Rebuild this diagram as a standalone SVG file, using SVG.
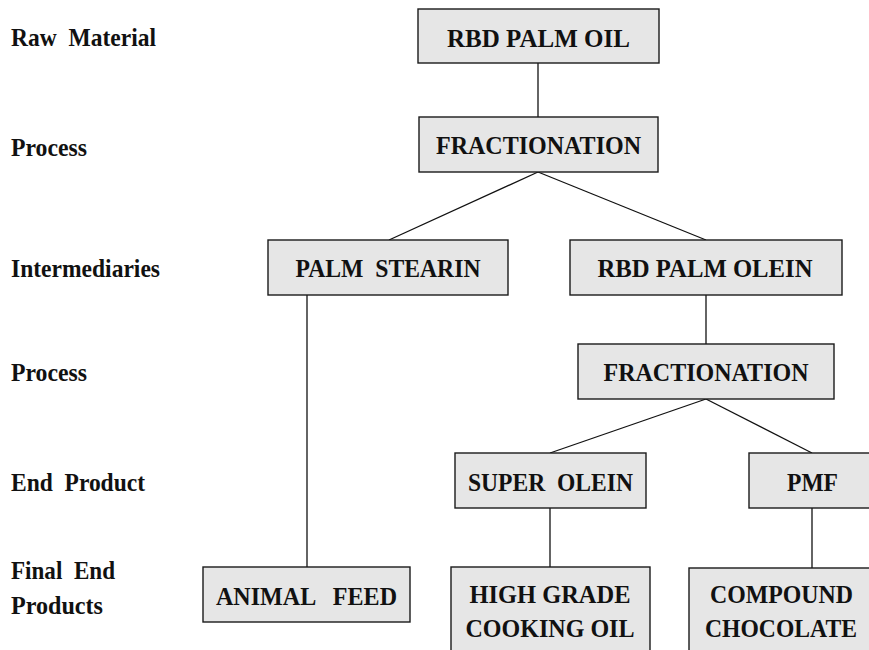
<svg xmlns="http://www.w3.org/2000/svg" width="869" height="650" viewBox="0 0 869 650">
<style>
.box{fill:#e6e6e6;stroke:#1a1a1a;stroke-width:1.4}
.conn{stroke:#111;stroke-width:1.3;fill:none}
.t{font-family:"Liberation Serif","Times New Roman",serif;font-weight:bold;font-size:26px;fill:#111;text-anchor:middle;white-space:pre}
.lab{font-family:"Liberation Serif","Times New Roman",serif;font-weight:bold;font-size:26px;fill:#111;white-space:pre}
</style>
<rect width="869" height="650" fill="#fff"/>
<g id="labels">
<text class="lab" x="11" y="46" textLength="145" lengthAdjust="spacingAndGlyphs">Raw  Material</text>
<text class="lab" x="11" y="156" textLength="76" lengthAdjust="spacingAndGlyphs">Process</text>
<text class="lab" x="11" y="277" textLength="149" lengthAdjust="spacingAndGlyphs">Intermediaries</text>
<text class="lab" x="11" y="381" textLength="76" lengthAdjust="spacingAndGlyphs">Process</text>
<text class="lab" x="11" y="491" textLength="134" lengthAdjust="spacingAndGlyphs">End  Product</text>
<text class="lab" x="11" y="579" textLength="104" lengthAdjust="spacingAndGlyphs">Final  End</text>
<text class="lab" x="11" y="614" textLength="92" lengthAdjust="spacingAndGlyphs">Products</text>
</g>
<g id="connectors">
<line class="conn" x1="538" y1="63" x2="538" y2="117"/>
<line class="conn" x1="538" y1="172" x2="389" y2="240"/>
<line class="conn" x1="538" y1="172" x2="706" y2="240"/>
<line class="conn" x1="307" y1="295" x2="307" y2="567"/>
<line class="conn" x1="706" y1="295" x2="706" y2="344"/>
<line class="conn" x1="706" y1="399" x2="550" y2="453"/>
<line class="conn" x1="706" y1="399" x2="812" y2="453"/>
<line class="conn" x1="550" y1="508" x2="550" y2="567"/>
<line class="conn" x1="812" y1="508" x2="812" y2="568"/>
</g>
<g id="rbd-palm-oil">
<rect class="box" x="418" y="9" width="241" height="54"/>
<text class="t" x="538.5" y="47" textLength="183" lengthAdjust="spacingAndGlyphs">RBD PALM OIL</text>
</g>
<g id="fractionation-1">
<rect class="box" x="419" y="117" width="239" height="55"/>
<text class="t" x="538.5" y="154" textLength="205" lengthAdjust="spacingAndGlyphs">FRACTIONATION</text>
</g>
<g id="palm-stearin">
<rect class="box" x="268" y="240" width="240" height="55"/>
<text class="t" x="388" y="277" textLength="185" lengthAdjust="spacingAndGlyphs">PALM  STEARIN</text>
</g>
<g id="rbd-palm-olein">
<rect class="box" x="570" y="240" width="272" height="55"/>
<text class="t" x="705" y="277" textLength="215" lengthAdjust="spacingAndGlyphs">RBD PALM OLEIN</text>
</g>
<g id="fractionation-2">
<rect class="box" x="578" y="344" width="256" height="55"/>
<text class="t" x="706" y="381" textLength="205" lengthAdjust="spacingAndGlyphs">FRACTIONATION</text>
</g>
<g id="super-olein">
<rect class="box" x="455" y="453" width="191" height="55"/>
<text class="t" x="550.5" y="491" textLength="165" lengthAdjust="spacingAndGlyphs">SUPER  OLEIN</text>
</g>
<g id="pmf">
<rect class="box" x="749" y="453" width="128" height="55"/>
<text class="t" x="812.5" y="491" textLength="51" lengthAdjust="spacingAndGlyphs">PMF</text>
</g>
<g id="animal-feed">
<rect class="box" x="203" y="567" width="207" height="55"/>
<text class="t" x="306.5" y="605" textLength="181" lengthAdjust="spacingAndGlyphs">ANIMAL   FEED</text>
</g>
<g id="high-grade-cooking-oil">
<rect class="box" x="451" y="567" width="199" height="90"/>
<text class="t" x="550" y="603" textLength="161" lengthAdjust="spacingAndGlyphs">HIGH GRADE</text>
<text class="t" x="550" y="637" textLength="169" lengthAdjust="spacingAndGlyphs">COOKING OIL</text>
</g>
<g id="compound-chocolate">
<rect class="box" x="689" y="568" width="186" height="90"/>
<text class="t" x="781.5" y="603" textLength="143" lengthAdjust="spacingAndGlyphs">COMPOUND</text>
<text class="t" x="781" y="637" textLength="152" lengthAdjust="spacingAndGlyphs">CHOCOLATE</text>
</g>
</svg>
